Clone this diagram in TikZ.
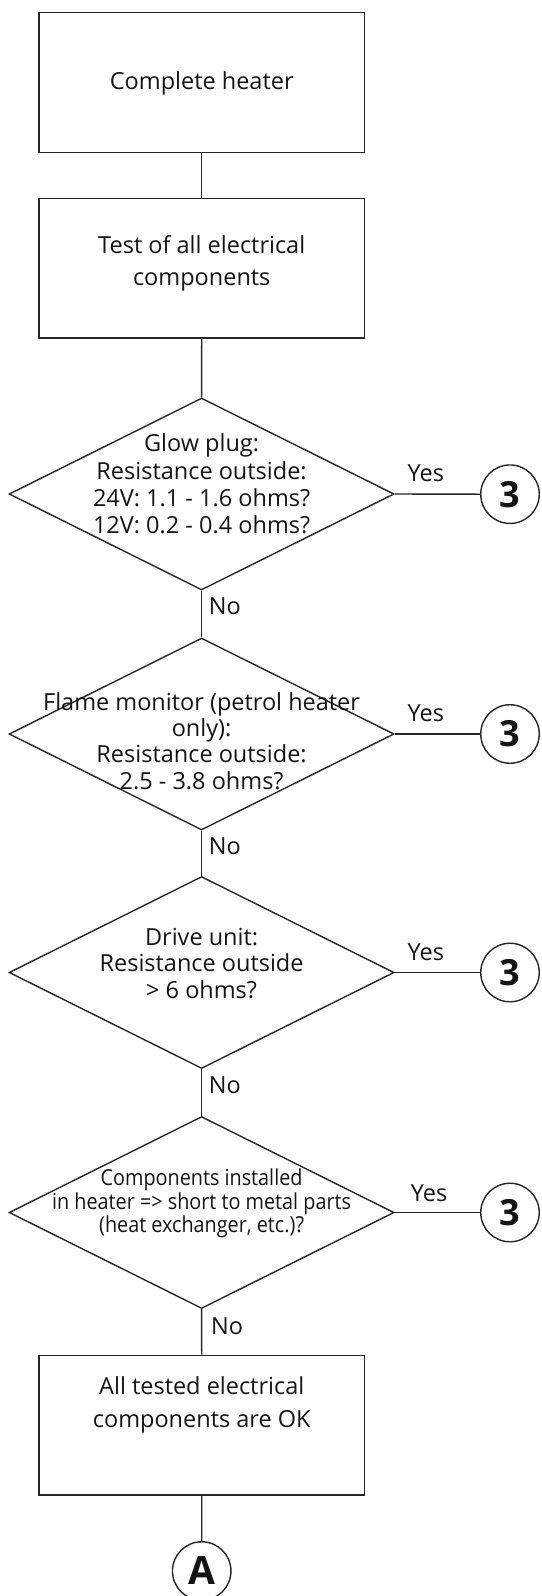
\documentclass[tikz,border=0pt]{standalone}
\usepackage{fontspec}
\setmainfont{Open Sans}
\newfontfamily\condfont[FakeStretch=0.9]{Open Sans}
\usetikzlibrary{shapes.geometric}
\begin{document}
\begin{tikzpicture}[x=1pt,y=-1pt,
  line/.style={draw=black!85, line width=1.4pt},
  box/.style={line, rectangle, minimum width=325.5pt, minimum height=139.6pt, inner sep=0pt},
  dia/.style={line, diamond, minimum width=385pt, minimum height=192pt, inner sep=0pt},
  conn/.style={line, circle, minimum size=58.5pt, inner sep=0pt, text=black!92},
  txt/.style={align=center, inner sep=0pt, text=black!92},
  lbl/.style={font=\fontsize{23.5}{26}\selectfont, inner sep=0pt, text=black!92}
]
\useasboundingbox (0,0) rectangle (541,1596);

% boxes
\node[box] (b1) at (201.75, 82.5) {};
\node[txt, font=\fontsize{23.5}{27}\selectfont] (b1t) at (201.75, 83) {Complete heater};
\node[box] (b2) at (201.75, 268.3) {};
\node[txt, font=\fontsize{23.5}{32}\selectfont] (b2t) at (201.75, 263) {Test of all electrical\\components};

% decisions
\node[dia] (d1) at (201.6, 494) {};
\node[txt, font=\fontsize{23.5}{27.3}\selectfont] (d1t) at (201.6, 484) {Glow plug:\\Resistance outside:\\24V: 1.1 - 1.6 ohms?\\12V: 0.2 - 0.4 ohms?};
\node[dia] (d2) at (201.6, 734) {};
\node[txt, font=\fontsize{23.5}{26.2}\selectfont] (d2t) at (201.6, 741) {Flame monitor (petrol heater\\only):\\Resistance outside:\\2.5 - 3.8 ohms?};
\node[dia] (d3) at (201.6, 972.5) {};
\node[txt, font=\fontsize{23.5}{26.7}\selectfont] (d3t) at (201.6, 963.3) {Drive unit:\\Resistance outside\\> 6 ohms?};
\node[dia] (d4) at (201.6, 1212.5) {};
\node[txt, font=\condfont\fontsize{22}{23.5}\selectfont] (d4t) at (201.6, 1203.5) {Components installed\\in heater => short to metal parts\\(heat exchanger, etc.)?};

% final box
\node[box] (b3) at (201.75, 1425) {};
\node[txt, font=\fontsize{23.5}{33.5}\selectfont] (b3t) at (201.75, 1405) {All tested electrical\\components are OK};

% connectors
\node[conn, font=\fontsize{36}{36}\selectfont\bfseries] (c1) at (510, 494.2) {3};
\node[conn, font=\fontsize{36}{36}\selectfont\bfseries] (c2) at (510, 734) {3};
\node[conn, font=\fontsize{36}{36}\selectfont\bfseries] (c3) at (510, 972.5) {3};
\node[conn, font=\fontsize{36}{36}\selectfont\bfseries] (c4) at (510, 1212.5) {3};
\node[conn, font=\fontsize{39}{39}\selectfont\bfseries] (ca) at (201.7, 1571) {A};

% lines
\draw[line] (b1) -- (b2);
\draw[line] (b2) -- (d1);
\draw[line] (d1) -- (d2);
\draw[line] (d2) -- (d3);
\draw[line] (d3) -- (d4);
\draw[line] (d4) -- (b3);
\draw[line] (b3) -- (ca);
\draw[line] (d1.east) -- (c1.west);
\draw[line] (d2.east) -- (c2.west);
\draw[line] (d3.east) -- (c3.west);
\draw[line] (d4.east) -- (c4.west);

% labels
\node[lbl] (y1) at (425.8, 473.3) {Yes};
\node[lbl] (y2) at (425.8, 713.5) {Yes};
\node[lbl] (y3) at (425.8, 952) {Yes};
\node[lbl] (y4) at (429, 1193) {Yes};
\node[lbl, anchor=west] (n1) at (208.6, 606.7) {No};
\node[lbl, anchor=west] (n2) at (208.6, 846.7) {No};
\node[lbl, anchor=west] (n3) at (208.6, 1085) {No};
\node[lbl, anchor=west] (n4) at (211, 1326.7) {No};
\end{tikzpicture}
\end{document}
